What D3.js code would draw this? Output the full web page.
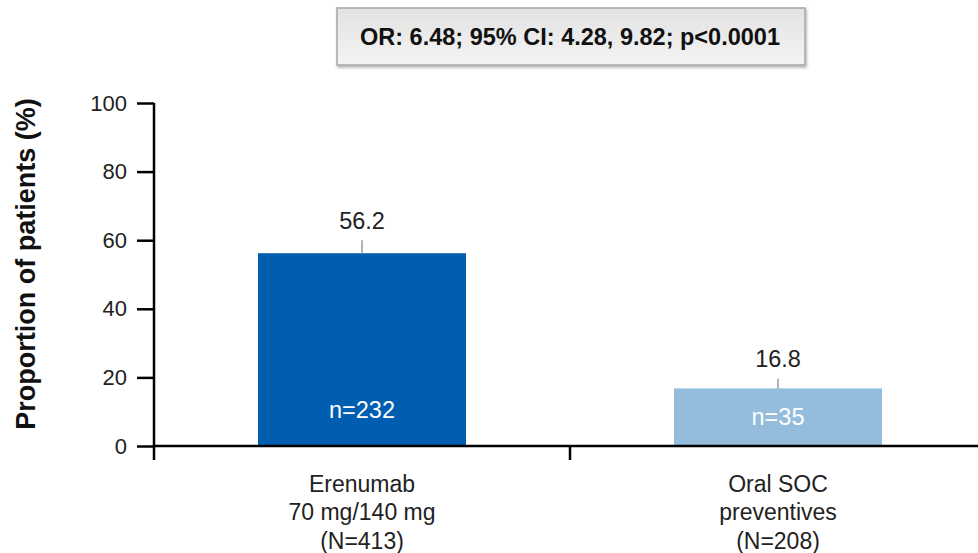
<!DOCTYPE html>
<html><head><meta charset="utf-8">
<script src="https://cdn.jsdelivr.net/npm/d3@7"></script>
<style>body{margin:0;background:#fff}svg{display:block}text{font-family:"Liberation Sans",Arial,sans-serif}</style>
</head><body>
<svg id="c" width="978" height="553"></svg>
<script>
const categories = [["Erenumab","70 mg/140 mg","(N=413)"],["Oral SOC","preventives","(N=208)"]];
const catKeys = ["Erenumab","Oral SOC"];
const values = [56.2, 16.8];
const errUpper = [60.0, 19.7];
const nLabels = ["n=232","n=35"];
const colors = ["#005EB0","#93BCDD"];
const yTicks = [0,20,40,60,80,100];
const annotation = "OR: 6.48; 95% CI: 4.28, 9.82; p<0.0001";

const svg = d3.select("#c");
const x0 = 154, x1 = 986, yBottom = 446, yTop = 103;
const x = d3.scaleBand().domain(catKeys).range([x0, x1]).paddingInner(0.5).paddingOuter(0.25);
const y = d3.scaleLinear().domain([0,100]).range([yBottom, yTop]);

const defs = svg.append("defs");
const g1 = defs.append("linearGradient").attr("id","bg").attr("x1",0).attr("y1",0).attr("x2",0).attr("y2",1);
g1.append("stop").attr("offset","0").attr("stop-color","#e2e2e2");
g1.append("stop").attr("offset","1").attr("stop-color","#f4f4f4");
const f = defs.append("filter").attr("id","sh").attr("x","-5%").attr("y","-20%").attr("width","110%").attr("height","150%");
f.append("feDropShadow").attr("dx",1).attr("dy",2).attr("stdDeviation",1.5).attr("flood-color","#000").attr("flood-opacity",0.3);

// annotation box
svg.append("rect").attr("x",337).attr("y",8).attr("width",468).attr("height",57)
  .attr("fill","url(#bg)").attr("stroke","#a6a6a6").attr("stroke-width",1.5).attr("filter","url(#sh)");
svg.append("text").attr("x",570).attr("y",45).attr("text-anchor","middle")
  .attr("font-size",23.5).attr("font-weight","bold").attr("fill","#111").text(annotation);

// bars
const bars = svg.append("g");
catKeys.forEach((k,i)=>{
  const bx = x(k), bw = x.bandwidth(), cx = bx + bw/2;
  bars.append("rect").attr("x",bx).attr("y",y(values[i])).attr("width",bw)
    .attr("height",yBottom - y(values[i])).attr("fill",colors[i]);
  bars.append("line").attr("x1",cx).attr("x2",cx).attr("y1",y(values[i])).attr("y2",y(errUpper[i]))
    .attr("stroke","#9a9a9a").attr("stroke-width",1.5);
  bars.append("text").attr("x",cx).attr("y",y(errUpper[i]) - 11).attr("text-anchor","middle")
    .attr("font-size",23.5).attr("fill","#222").text(values[i].toFixed(1));
  const mid = (y(values[i]) + yBottom)/2;
  const ny = Math.max(mid, yBottom - 36);
  bars.append("text").attr("x",cx).attr("y",ny + 8).attr("text-anchor","middle")
    .attr("font-size",23.5).attr("fill","#fff").text(nLabels[i]);
});

// y axis
const ya = svg.append("g").attr("transform",`translate(${x0},0)`)
  .call(d3.axisLeft(y).tickValues(yTicks).tickSize(17).tickPadding(10).tickSizeOuter(0));
ya.selectAll(".tick line").attr("stroke","#000").attr("stroke-width",2.5);
ya.selectAll(".tick text").attr("font-size",22).attr("fill","#222").attr("font-family","Liberation Sans, Arial, sans-serif");
ya.select(".domain").attr("stroke","#000").attr("stroke-width",2.5).attr("d",`M0,${yTop}V${yBottom+14}`);

// x axis
const xa = svg.append("g").attr("transform",`translate(0,${yBottom})`);
xa.append("line").attr("x1",x0).attr("x2",978).attr("y1",0).attr("y2",0).attr("stroke","#000").attr("stroke-width",2.5);
const boundary = x(catKeys[1]) - x.step()*x.paddingInner()/2;
xa.append("line").attr("x1",boundary).attr("x2",boundary).attr("y1",0).attr("y2",14).attr("stroke","#000").attr("stroke-width",2.5);
catKeys.forEach((k,i)=>{
  const cx = x(k) + x.bandwidth()/2;
  const t = xa.append("text").attr("text-anchor","middle").attr("font-size",23).attr("fill","#222");
  categories[i].forEach((line,j)=>{
    t.append("tspan").attr("x",cx).attr("y",45.5 + j*28.5).text(line);
  });
});

// y title
svg.append("text").attr("transform",`translate(35,${264}) rotate(-90)`)
  .attr("text-anchor","middle").attr("font-size",27).attr("font-weight","bold").attr("fill","#111")
  .text("Proportion of patients (%)");
</script>
</body></html>
